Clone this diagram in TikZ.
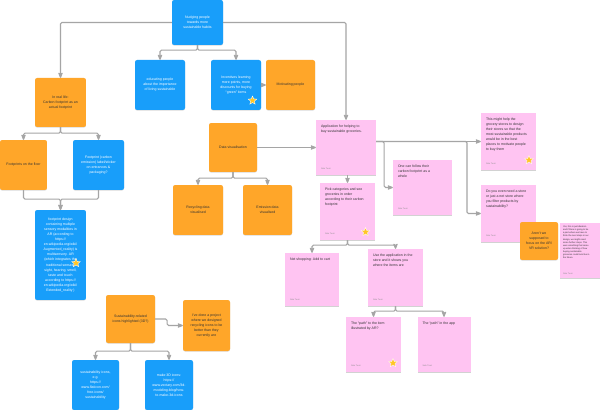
\documentclass[tikz,border=0pt]{standalone}
\usepackage{fontspec}
\setmainfont{Liberation Sans}
\usepackage{tikz}
\usetikzlibrary{shapes,arrows,positioning,shadows}

\definecolor{stickblue}{RGB}{24,158,250}
\definecolor{stickorange}{RGB}{255,166,41}
\definecolor{stickpink}{RGB}{255,196,242}
\definecolor{linegray}{RGB}{165,165,165}
\definecolor{stargold}{RGB}{255,198,38}

\begin{document}
\begin{tikzpicture}[x=0.05cm, y=-0.05cm, >=stealth',
    idea/.style={rectangle, rounded corners=3pt, fill=stickblue, text=white, minimum width=2.5cm, minimum height=2.5cm, align=center, inner sep=1pt, font=\fontsize{5}{7.2}\selectfont, drop shadow={shadow xshift=0pt, shadow yshift=-0.8pt, opacity=.3}},
    thought/.style={idea, fill=stickorange, text=black!80},
    note/.style 2 args={rectangle, fill=stickpink, inner sep=0.25cm, text=black!80, font=\fontsize{5}{7.2}\selectfont, drop shadow={shadow xshift=0pt, shadow yshift=-1pt, opacity=.35},
        execute at begin node={\begin{minipage}[t][#2][t]{#1}\raggedright},
        execute at end node={\endgraf\vfill{\fontsize{3}{4}\selectfont\color{black!45}Satu Tuuri}\end{minipage}}},
    starmark/.style={star, star points=5, star point ratio=2.2, fill=stargold, draw=white, line width=0.5pt, minimum size=0.45cm, inner sep=0pt},
    link/.style={draw=linegray, line width=1.5pt, ->, rounded corners=2pt}]
    \fill [white] (0,0) rectangle (600,410);
    \useasboundingbox (0,0) rectangle (600,410);

    % top level
    \node [idea, minimum width=2.55cm, minimum height=2.25cm] (nudge) at (197.5,22.5) {Nudging people\\towards more\\sustainable habits};
    \node [idea] (educate) at (160,85) {educating people\\about the importance\\of living sustainable};
    \node [idea] (incent) at (236,85) {Incentives learning\\more points, more\\discounts for buying\\``green'' items};
    \node [thought, minimum width=2.45cm] (motivate) at (290.5,85) {Motivating people};

    % left branch
    \node [thought, minimum width=2.55cm, minimum height=2.45cm] (reallife) at (60.5,102.5) {In real life:\\Carbon footprint as an\\actual footprint};
    \node [thought, minimum width=2.35cm] (floor) at (23.5,165) {Footprints on the floor};
    \node [idea, minimum width=2.55cm] (sticker) at (98.5,165) {Footprint (carbon\\emission) label/sticker\\on entrances \&\\packaging?};
    \node [idea, minimum width=2.55cm, minimum height=4.5cm] (multi) at (60.5,255) {footprint design\\containing multiple\\sensory modalities in\\AR (according to\\https://\\en.wikipedia.org/wiki/\\Augmented\_reality) is\\multisensory. AR\\(which integrates the\\traditional senses:\\sight, hearing, smell,\\taste and touch\\according to https://\\en.wikipedia.org/wiki/\\Extended\_reality )};

    % data visualisation
    \node [thought, minimum width=2.4cm, minimum height=2.45cm] (dataviz) at (233,147.5) {Data visualisation};
    \node [thought] (recycle) at (198,210) {Recycling data\\visualised};
    \node [thought, minimum width=2.45cm] (emission) at (267.5,210) {Emission data\\visualised};

    % icons
    \node [thought, minimum width=2.45cm, minimum height=2.4cm] (icons) at (130.5,319) {Sustainability-related\\icons highlighted (3D?)};
    \node [thought, minimum width=2.35cm, minimum height=2.55cm] (project) at (206.5,325.5) {I've done a project\\where we designed\\recycling icons to be\\better than they\\currently are};
    \node [idea, minimum width=2.35cm] (flaticon) at (95.5,385) {sustainability icons,\\e.g.\\https://\\www.flaticon.com/\\free-icons/\\sustainability};
    \node [idea, minimum width=2.4cm] (vectary) at (169,385) {make 3D icons:\\https://\\www.vectary.com/3d-\\modeling-blog/how-\\to-make-3d-icons};

    % grocery app notes
    \node [note={2.5cm}{2.25cm}] (app) at (346,147.5) {Application for helping to\\buy sustainable groceries.};
    \node [note={2.45cm}{2.25cm}] (follow) at (422.5,187.5) {One can follow their\\carbon footprint as a\\whole};
    \node [note={2.25cm}{2.35cm}] (pick) at (347.5,211.5) {Pick categories and see\\groceries in order\\according to their carbon\\footprint};
    \node [note={2.25cm}{2.35cm}] (trade) at (508.5,141.5) {This might help the\\grocery stores to design\\their stores so that the\\most sustainable products\\would be in the best\\places to motivate people\\to buy them};
    \node [note={2.25cm}{2.35cm}] (netstore) at (508.5,213.5) {Do you even need a store\\or just a net store where\\you filter products by\\sustainability?};
    \node [thought, minimum width=1.9cm, minimum height=1.9cm, font=\fontsize{5}{7}\selectfont] (arvr) at (539,241) {Aren't we\\supposed to\\focus on the AR/\\VR solution?};
    \node [note={1.7cm}{2.45cm}, inner sep=0.15cm, font=\fontsize{3.2}{4.4}\selectfont] (ideation) at (580,250.5) {Yes, this is just ideation\\and if there is going to be\\a part where we have to\\think the next steps in our\\design, we might need\\some further steps. This\\was something that came\\up when thinking of how\\buying sustainable\\groceries could look like in\\the future.};
    \node [note={2.2cm}{2.15cm}] (netcart) at (312,279.5) {Net shopping: Add to cart};
    \node [note={2.25cm}{2.35cm}] (instore) at (395.5,277.5) {Use the application in the\\store and it shows you\\where the items are};
    \node [note={2.25cm}{2.25cm}] (arpath) at (373.5,344.5) {The ``path'' to the item\\illustrated by AR?};
    \node [note={2.15cm}{2.25cm}] (apppath) at (444,344.5) {The ``path'' in the app};

    % stars
    \node [starmark] (star1) at (252.5,100.5) {};
    \node [starmark] (star2) at (76,263) {};
    \node [starmark] (star3) at (365.5,232) {};
    \node [starmark] (star4) at (529,160) {};
    \node [starmark] (star5) at (393,363) {};

    % connectors
    \draw [link] (nudge.west) -| (reallife.north);
    \draw [link] (nudge.east) -| (app.north);
    \draw [link] (nudge.south) -- ++(0,5) -| (educate.north);
    \draw [link] (nudge.south) -- ++(0,5) -| (incent.north);
    \draw [link] (incent.east) -- (motivate.west);
    \draw [link] (reallife.south) -- ++(0,6) -| (floor.north);
    \draw [link] (reallife.south) -- ++(0,6) -| (sticker.north);
    \draw [link] (floor.south) -- ++(0,9) -| (multi.north);
    \draw [link] (sticker.south) -- ++(0,9) -| (multi.north);
    \draw [link] (dataviz.south) -- ++(0,6) -| (recycle.north);
    \draw [link] (dataviz.south) -- ++(0,6) -| (emission.north);
    \draw [link] (dataviz.east) -- (app.west);
    \draw [link] (app.south -| pick.north) -- (pick.north);
    \coordinate (netjoint) at (467,0);
    \draw [link] (app.east |- trade.west) -- (trade.west);
    \draw [link] (app.east |- trade.west) -- ++(8,0) |- (follow.west);
    \draw [link] (app.east |- trade.west) -| (netjoint |- netstore.west) -- (netstore.west);
    \draw [link] (pick.south) -- ++(0,5) -| (netcart.north);
    \draw [link] (pick.south) -- ++(0,5) -| (instore.north);
    \draw [link] (instore.south) -- ++(0,5) -| (arpath.north);
    \draw [link] (instore.south) -- ++(0,5) -| (apppath.north);
    \draw [link] (icons.east) -- ++(12,0) |- (project.west);
    \draw [link] (icons.south) -- ++(0,8) -| (flaticon.north);
    \draw [link] (icons.south) -- ++(0,8) -| (vectary.north);
\end{tikzpicture}
\end{document}
